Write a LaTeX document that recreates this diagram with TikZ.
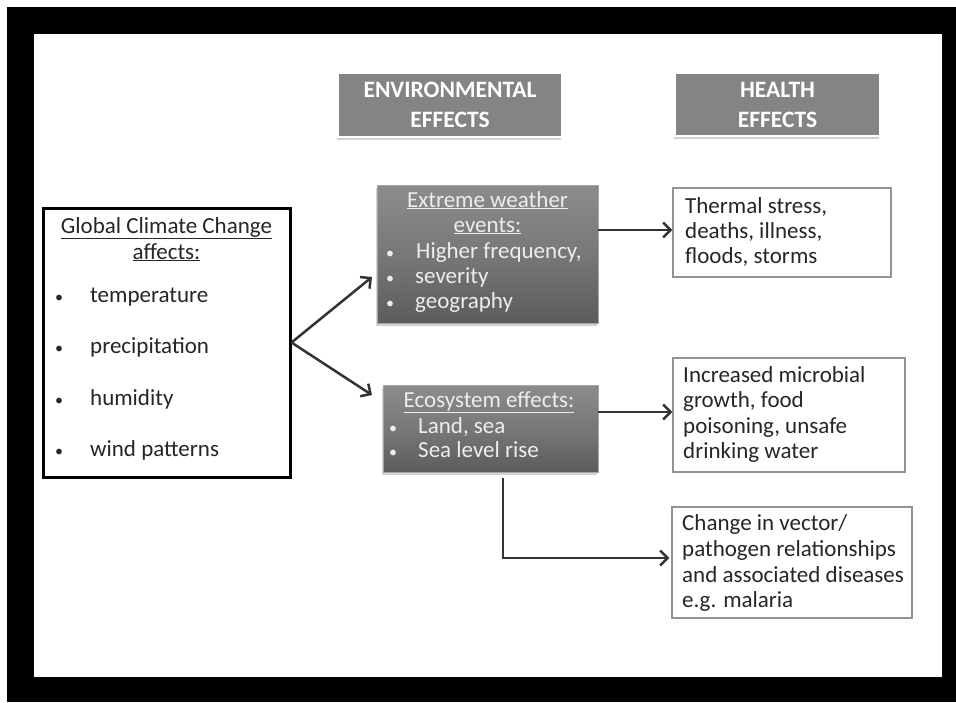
\documentclass[tikz,border=0pt]{standalone}
\usepackage{fontspec}
\setmainfont{Carlito}
\usetikzlibrary{arrows.meta,shadows}
\definecolor{hdrgray}{HTML}{848484}
\definecolor{conncol}{HTML}{333333}
\definecolor{txtdark}{HTML}{262626}
\definecolor{txtlight}{HTML}{EDEDED}
\tikzset{
  hdrbox/.style={draw=white, line width=2.5pt, fill=hdrgray, inner sep=0pt,
    drop shadow={shadow xshift=-1pt, shadow yshift=-3pt, opacity=0.35},
    text=white, align=center, font=\fontsize{23.5}{30}\selectfont\bfseries},
  darkbox/.style={draw=gray!70, line width=0.8pt, top color=gray!90!white, bottom color=black!64, middle color=black!53,
    drop shadow={shadow xshift=-1pt, shadow yshift=-3pt, opacity=0.35}, inner sep=0pt},
  whitebox/.style={draw=gray!85, line width=1.2pt, fill=white, inner sep=0pt},
  globbox/.style={draw=black, line width=3pt, fill=white, inner sep=0pt},
  txt/.style={anchor=base west, inner sep=0pt, font=\fontsize{23}{25}\selectfont},
  ctxt/.style={anchor=base, inner sep=0pt, font=\fontsize{23}{25}\selectfont},
  bul/.style={anchor=base, inner sep=0pt, font=\fontsize{16}{25}\selectfont},
  conn/.style={draw=conncol, line width=2.5pt, -{Straight Barb[length=7.5pt,width=15pt]}},
}
\begin{document}
\begin{tikzpicture}[x=1pt,y=-1pt]
\useasboundingbox (0,0) rectangle (956,702);
\fill[black] (7,7) rectangle (956,702);
\fill[white] (34,34) rectangle (942,677);

% headers
\node[hdrbox, minimum width=224pt, minimum height=64pt] (env) at (450,105) {ENVIRONMENTAL\\EFFECTS};
\node[hdrbox, minimum width=205pt, minimum height=63pt] (hlth) at (777.5,104.5) {HEALTH\\EFFECTS};

% global box
\node[globbox, minimum width=247pt, minimum height=269pt] (glob) at (166.5,342.5) {};
\node[ctxt, text=txtdark] (g1) at (166.5,233) {\underline{Global Climate Change}};
\node[ctxt, text=txtdark] (g2) at (166.5,259) {\underline{affects:}};
\node[bul, text=txtdark] (gb1) at (59,302) {\textbullet};
\node[txt, text=txtdark] (gt1) at (90,302) {temperature};
\node[bul, text=txtdark] (gb2) at (59,353) {\textbullet};
\node[txt, text=txtdark] (gt2) at (90,353) {precipitation};
\node[bul, text=txtdark] (gb3) at (59,405) {\textbullet};
\node[txt, text=txtdark] (gt3) at (90,405) {humidity};
\node[bul, text=txtdark] (gb4) at (59,456) {\textbullet};
\node[txt, text=txtdark] (gt4) at (90,456) {wind patterns};

% extreme weather box
\node[darkbox, minimum width=221pt, minimum height=138pt] (ext) at (487.5,254) {};
\node[ctxt, text=txtlight] (e1) at (487.5,207) {\underline{Extreme weather}};
\node[ctxt, text=txtlight] (e2) at (487.5,232) {\underline{events:}};
\node[bul, text=txtlight] (eb1) at (390,258) {\textbullet};
\node[txt, text=txtlight] (et1) at (416,258) {Higher frequency,};
\node[bul, text=txtlight] (eb2) at (390,283) {\textbullet};
\node[txt, text=txtlight] (et2) at (415,283) {severity};
\node[bul, text=txtlight] (eb3) at (390,308) {\textbullet};
\node[txt, text=txtlight] (et3) at (415,308) {geography};

% ecosystem box
\node[darkbox, minimum width=215pt, minimum height=87pt] (eco) at (490.5,428.5) {};
\node[ctxt, text=txtlight] (c1) at (489,407) {\underline{Ecosystem effects:}};
\node[bul, text=txtlight] (cb1) at (393,433) {\textbullet};
\node[txt, text=txtlight] (ct1) at (418,433) {Land, sea};
\node[bul, text=txtlight] (cb2) at (393,457) {\textbullet};
\node[txt, text=txtlight] (ct2) at (418,457) {Sea level rise};

% right boxes
\node[whitebox, minimum width=218pt, minimum height=89pt] (therm) at (782,232.5) {};
\node[txt, text=txtdark] (th1) at (685,213) {Thermal stress,};
\node[txt, text=txtdark] (th2) at (685,238) {deaths, illness,};
\node[txt, text=txtdark] (th3) at (685,263) {floods, storms};

\node[whitebox, minimum width=232pt, minimum height=114pt] (micro) at (789,415) {};
\node[txt, text=txtdark] (m1) at (683,382) {Increased microbial};
\node[txt, text=txtdark] (m2) at (683,407) {growth, food};
\node[txt, text=txtdark] (m3) at (683,433) {poisoning, unsafe};
\node[txt, text=txtdark] (m4) at (683,458) {drinking water};

\node[whitebox, minimum width=240pt, minimum height=111pt] (vec) at (792,562.5) {};
\node[txt, text=txtdark] (v1) at (682,530) {Change in vector/};
\node[txt, text=txtdark] (v2) at (682,556) {pathogen relationships};
\node[txt, text=txtdark] (v3) at (682,582) {and associated diseases};
\node[txt, text=txtdark] (v4) at (682,607) {e.g. malaria};

% connectors
\coordinate (tipA) at (372,277);
\coordinate (tipB) at (372,395);
\draw[conn] (glob.east) -- (tipA);
\draw[conn] (glob.east) -- (tipB);
\draw[conn] (ext.east |- 0,230) -- (therm.west |- 0,230);
\draw[conn] (eco.east |- 0,412) -- (micro.west |- 0,412);
\draw[conn] ([xshift=12.5pt,yshift=-6pt]eco.south) |- ([xshift=-2pt,yshift=4.5pt]vec.west);
\end{tikzpicture}
\end{document}
